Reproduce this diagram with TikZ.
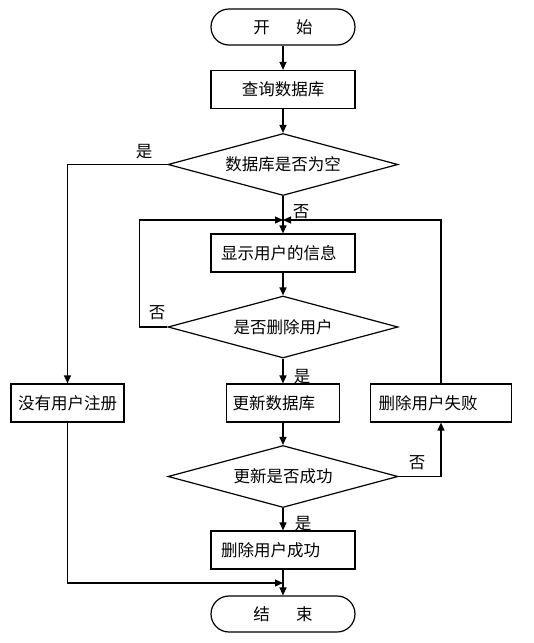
\documentclass[tikz,border=0pt]{standalone}
\usepackage{fontspec}
\setmainfont{Noto Sans CJK SC}
\usetikzlibrary{shapes.geometric,arrows.meta}

\begin{document}
\begin{tikzpicture}[x=1pt, y=-1pt, line width=1.2pt,
  every node/.style={font=\fontsize{16.5}{19}\selectfont},
  term/.style={draw, rounded corners=18, minimum width=144, minimum height=36},
  proc/.style={draw, minimum height=38, inner xsep=10, align=left},
  cond/.style={draw, diamond, aspect=3.7, inner sep=0, minimum width=230, minimum height=62},
  ->/.style={-{Triangle[length=8pt,width=7pt]}}]
\useasboundingbox (0,0) rectangle (534,643);
\node[term] (start) at (283,27) {开\hspace{1.6em}始};
\node[proc, text width=124, align=center] (query) at (283,89.5) {查询数据库};
\node[cond] (empty) at (283,164.5) {数据库是否为空};
\coordinate (join) at (283,220);
\node[proc, text width=124] (show) at (283,253) {显示用户的信息};
\node[cond] (ask) at (283,327) {是否删除用户};
\node[proc, inner xsep=4, text width=105, align=center] (noreg) at (67.5,403) {没有用户注册};
\node[proc, inner xsep=6, text width=101] (update) at (283,403) {更新数据库};
\node[proc, inner xsep=8, text width=125] (fail) at (441,403) {删除用户失败};
\node[cond] (ok) at (283,476.5) {更新是否成功};
\node[proc, text width=124] (done) at (283,550) {删除用户成功};
\node[term] (stop) at (283,614) {结\hspace{1.6em}束};
\coordinate (meet) at (283,583);

\draw[->] (start) -- (query);
\draw[->] (query) -- (empty);
\draw (empty.south) -- (join);
\draw[->] (join) -- (show);
\draw[->] (show) -- (ask);
\draw[->] (empty.west) -| (noreg.north);
\draw[->] (ask.west) -- ++(-28,0) |- (join);
\draw[->] (ask.south) -- (update.north);
\draw[->] (update) -- (ok);
\draw[->] (ok.east) -| (fail.south);
\draw[->] (fail.north) |- (join);
\draw[->] (ok.south) -- (done.north);
\draw[->] (done) -- (stop);
\draw[->] (noreg.south) |- (meet);

\node (yes1) at (144,152) {是};
\node (no1) at (301,212) {否};
\node (no2) at (157,313) {否};
\node (yes2) at (302,377) {是};
\node (no3) at (417,463) {否};
\node (yes3) at (303,524) {是};
\end{tikzpicture}
\end{document}
